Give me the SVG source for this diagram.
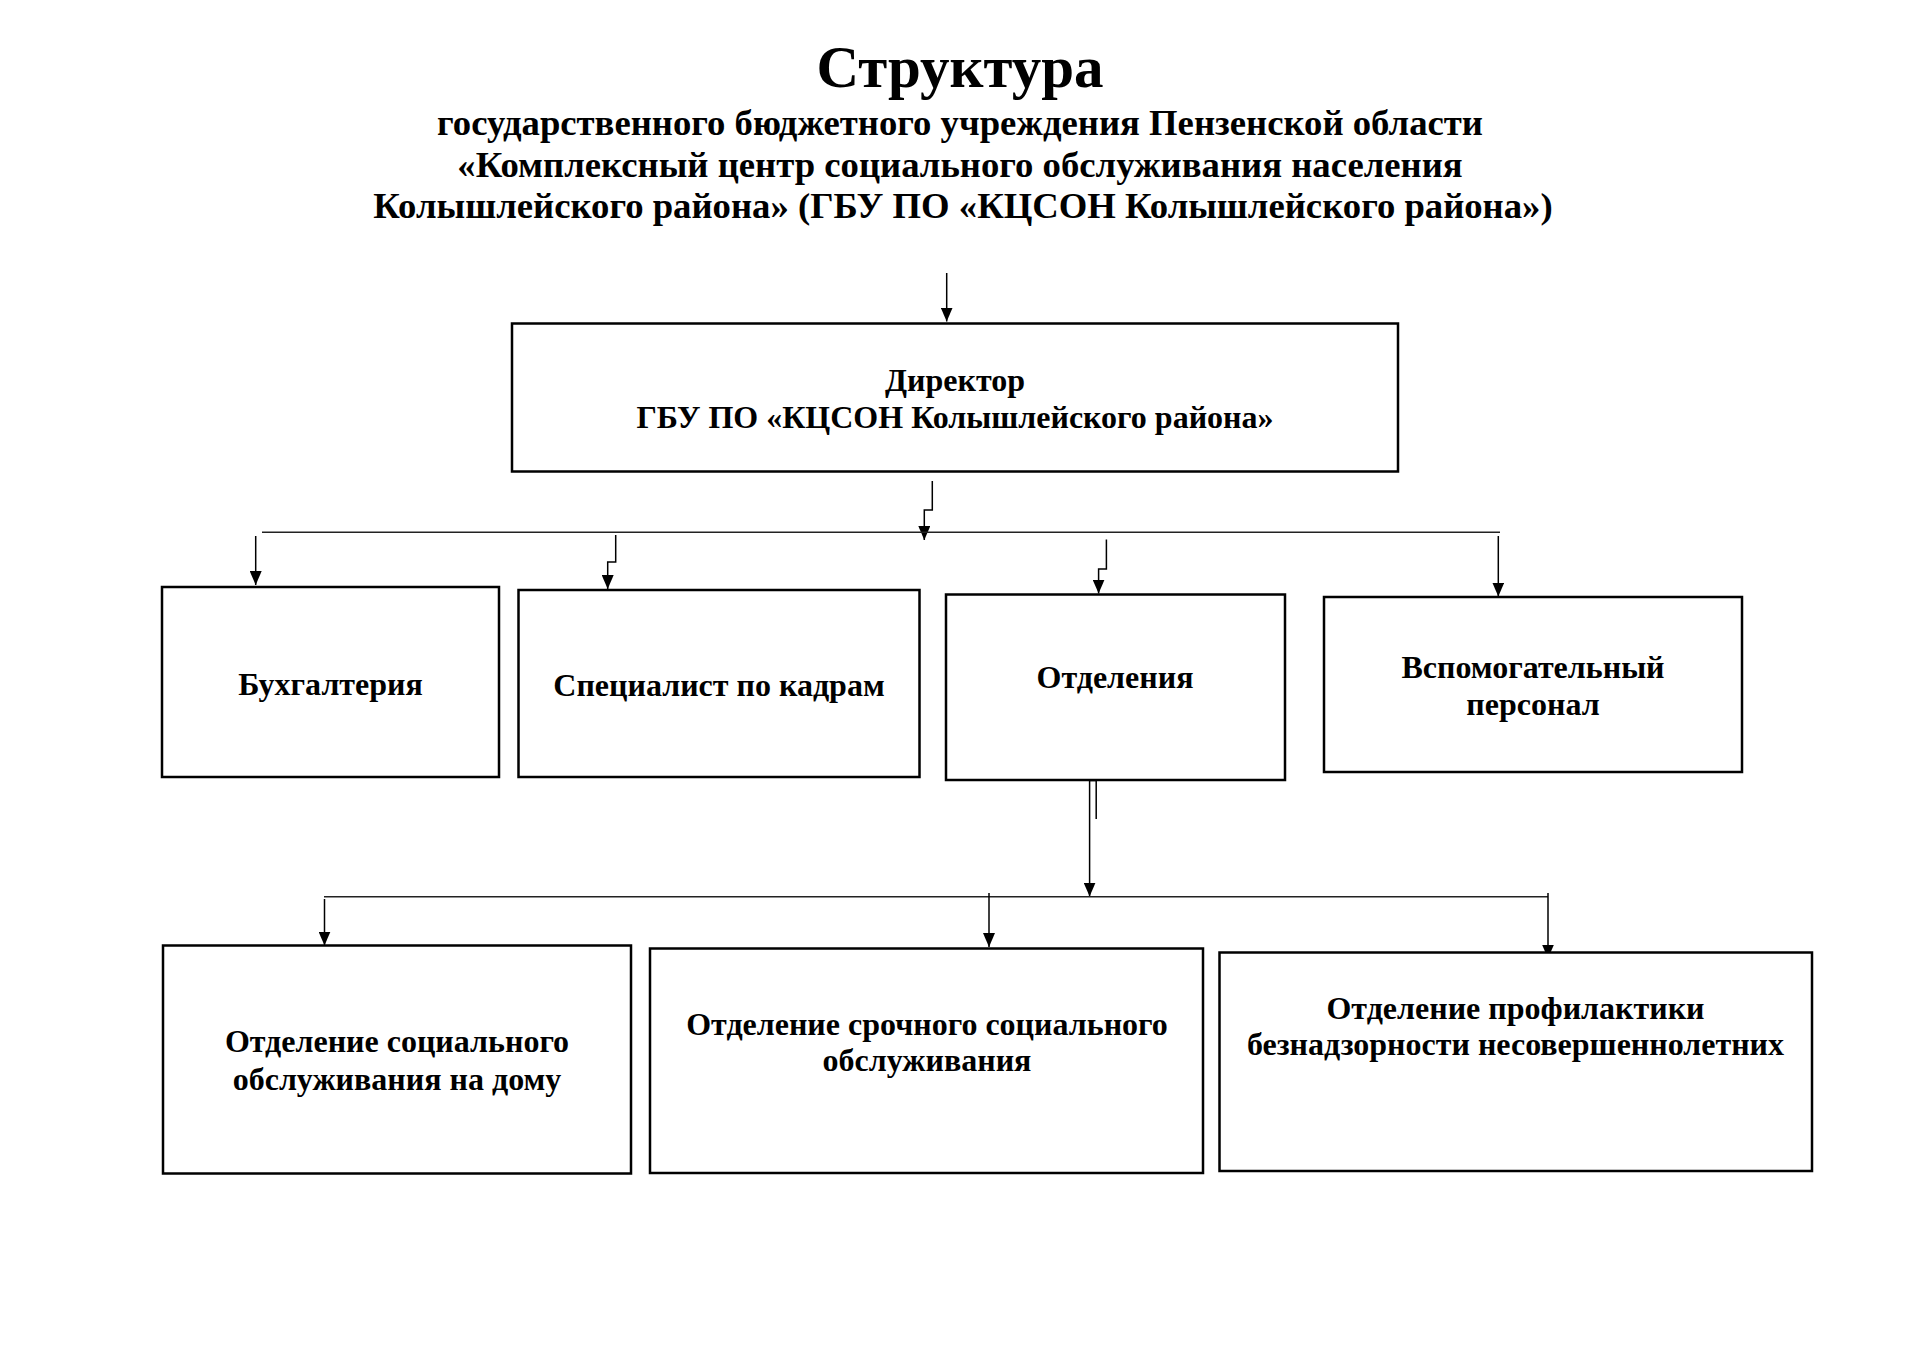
<svg xmlns="http://www.w3.org/2000/svg" width="1920" height="1358" viewBox="0 0 1920 1358">
  <style>
    text { font-family: "Liberation Serif", "Times New Roman", serif; font-weight: bold; fill: #000; text-anchor: middle; }
    .title { font-size: 59px; }
    .sub { font-size: 36.7px; }
    .lbl { font-size: 32px; }
    .box { fill: #fff; stroke: #000; stroke-width: 2.5; }
    .con { fill: none; stroke: #000; stroke-width: 1.5; }
    .arr { marker-end: url(#ah); }
    .bus { fill: none; stroke: #222; stroke-width: 1.4; }
  </style>
  <defs>
    <marker id="ah" viewBox="0 0 14 12" refX="14" refY="6" markerWidth="14" markerHeight="12" markerUnits="userSpaceOnUse" orient="auto">
      <path d="M0,0 L14,6 L0,12 z" fill="#000"/>
    </marker>
  </defs>
  <rect x="0" y="0" width="1920" height="1358" fill="#fff"/>

  <g id="heading">
    <text class="title" x="960" y="87">Структура</text>
    <text class="sub" x="960" y="135">государственного бюджетного учреждения Пензенской области</text>
    <text class="sub" x="960" y="177">«Комплексный центр социального обслуживания населения</text>
    <text class="sub" x="963" y="218">Колышлейского района» (ГБУ ПО «КЦСОН Колышлейского района»)</text>
  </g>

  <g id="connectors">
    <path class="con arr" d="M946.7,273 V321.5"/>
    <path class="con arr" d="M932.3,481 V510 H924.3 V540"/>
    <path class="bus" d="M262,532.3 H1500"/>
    <path class="con arr" d="M255.7,536 V585"/>
    <path class="con arr" d="M615.7,535 V562 H607.7 V589"/>
    <path class="con arr" d="M1106.4,539.6 V569 H1098.6 V593.5"/>
    <path class="con arr" d="M1498.3,536 V596.5"/>
    <path class="con" d="M1096.2,819 V780.5 H1089.6"/>
    <path class="con arr" d="M1089.6,780 V896.5"/>
    <path class="bus" d="M324,896.7 H1548"/>
    <path class="con arr" d="M324.5,899 V945.5"/>
    <path class="con arr" d="M989,893 V947"/>
    <path class="con arr" d="M1548,893 V958.5"/>
  </g>

  <g id="director">
    <rect class="box" x="512" y="323.5" width="886" height="148"/>
    <text class="lbl" x="955" y="391">Директор</text>
    <text class="lbl" x="955" y="428">ГБУ ПО «КЦСОН Колышлейского района»</text>
  </g>

  <g id="accounting">
    <rect class="box" x="162" y="587" width="337" height="190"/>
    <text class="lbl" x="330.5" y="695">Бухгалтерия</text>
  </g>

  <g id="hr">
    <rect class="box" x="518.5" y="590" width="401" height="187"/>
    <text class="lbl" x="719" y="696">Специалист по кадрам</text>
  </g>

  <g id="departments">
    <rect class="box" x="946" y="594.5" width="339" height="185.5"/>
    <text class="lbl" x="1115" y="688">Отделения</text>
  </g>

  <g id="support">
    <rect class="box" x="1324" y="597" width="418" height="175"/>
    <text class="lbl" x="1533" y="678">Вспомогательный</text>
    <text class="lbl" x="1533" y="715">персонал</text>
  </g>

  <g id="home-service">
    <rect class="box" x="163" y="945.5" width="468" height="228"/>
    <text class="lbl" x="397" y="1052">Отделение социального</text>
    <text class="lbl" x="397" y="1090">обслуживания на дому</text>
  </g>

  <g id="urgent-service">
    <rect class="box" x="650" y="948.5" width="553" height="224.5"/>
    <text class="lbl" x="927" y="1035">Отделение срочного социального</text>
    <text class="lbl" x="927" y="1071">обслуживания</text>
  </g>

  <g id="prevention">
    <rect class="box" x="1219.5" y="952.5" width="592.5" height="218.5"/>
    <text class="lbl" x="1515.5" y="1019">Отделение профилактики</text>
    <text class="lbl" x="1515.5" y="1055">безнадзорности несовершеннолетних</text>
  </g>
</svg>
